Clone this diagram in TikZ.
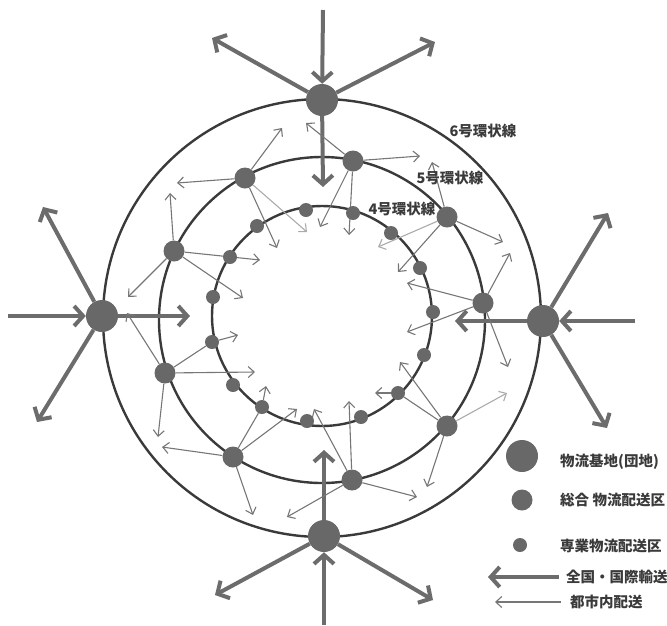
\documentclass[tikz,border=0pt]{standalone}
\usepackage{fontspec}
\newfontfamily\jp{Noto Sans CJK JP}
\usetikzlibrary{arrows.meta}
\pgfdeclarelayer{bg}
\pgfsetlayers{bg,main}
\definecolor{ringc}{HTML}{3A3A3A}
\definecolor{nodec}{HTML}{686868}
\definecolor{arrc}{HTML}{6C6C6C}
\definecolor{thinc}{HTML}{767676}
\definecolor{lightc}{HTML}{ABABAB}
\definecolor{txtc}{HTML}{3A3A3A}
\begin{document}
\begin{tikzpicture}[x=1pt,y=-1pt,
  ring/.style={draw=ringc,line width=2.4pt},
  bignode/.style={circle,fill=nodec,minimum size=32pt,inner sep=0pt},
  midnode/.style={circle,fill=nodec,minimum size=21pt,inner sep=0pt},
  smallnode/.style={circle,fill=nodec,minimum size=14pt,inner sep=0pt},
  thickarr/.style={draw=arrc,line width=4pt,-{Straight Barb[length=9pt,width=20pt]}},
  thinarr/.style={draw=thinc,line width=1.1pt,-{Straight Barb[length=6pt,width=11pt]}},
  lightarr/.style={draw=lightc,line width=1.1pt,-{Straight Barb[length=6pt,width=11pt]}},
  thinline/.style={draw=thinc,line width=1.1pt},
  lab/.style={font=\jp\bfseries\fontsize{14.5}{15}\selectfont,text=txtc,inner sep=0pt},
  leg/.style={font=\jp\bfseries\fontsize{14.5}{15}\selectfont,text=txtc,inner sep=0pt,anchor=west}
]
\useasboundingbox (0,0) rectangle (667,625);

% ring centres
\coordinate (rc6) at (322,318);
\coordinate (rc5) at (322,320);
\coordinate (rc4) at (322,316);

% big nodes
\node[bignode] (T) at (322,100) {};
\node[bignode] (L) at (102,316) {};
\node[bignode] (R) at (543,321) {};
\node[bignode] (B) at (324,536) {};

% mid nodes
\foreach \n/\x/\y in {N1/353/161,N2/245/178,N3/174/251,N4/165/373,N5/233/457,
  N6/352/480,N7/447/426,N8/483/303,N9/447/217}
  \node[midnode] (\n) at (\x,\y) {};

% small nodes
\foreach \n/\x/\y in {i1/306/210,i2/353/213,i3/391/233,i4/420/268,i5/433/312,
  i6/424/355,i7/398/393,i8/361/417,i9/307/421,i10/262/407,i11/233/385,
  i12/212/342,i13/213/297,i14/230/257,i15/257/226}
  \node[smallnode] (\n) at (\x,\y) {};

% free ends of thick arrows
\foreach \n/\x/\y in {Tin/323/10,Tul/212/38,Tur/435/42,Td/323/187,
  Lin/8/316,Lr/190/316,Lul/43/207,Lll/37/422,
  Rin/635/321,Rl/455/321,Rur/608/213,Rlr/607/428,
  Bin/324/625,Bu/324/450,Bll/215/595,Blr/433/600}
  \coordinate (\n) at (\x,\y);

% free ends of thin arrows
\foreach \n/\x/\y in {
  ta1/420/156,ta2/306/123,ta3/320/227,ta4/349/235,
  tb1/177/183,tb2/282/128,tb3/277/248,tb4/307/232,
  tc1/170/193,tc2/128/297,tc3/243/298,tc4/260/260,
  td1/127/313,td2/255/372,td3/158/437,td4/238/335,
  te1/162/447,te2/297/409,te3/253/515,te4/266/386,
  tf1/349/401,tf2/314/409,tf3/417/497,tf4/287/517,
  tg1/400/362,tg2/507/393,tg3/427/487,tg4/375/393,
  th1/407/283,th2/407/332,th3/510/253,th4/508/367,
  tk1/432/162,tk2/378/247,tk3/398/272,tk4/503/242}
  \coordinate (\n) at (\x,\y);

\begin{pgfonlayer}{bg}
  % rings
  \draw[ring] (rc6) circle[radius=219];
  \draw[ring] (rc5) circle[radius=163];
  \draw[ring] (rc4) circle[radius=110];

  % thick arrows
  \foreach \s/\t in {Tin/T,Lin/L,Rin/R,Bin/B,
    T/Tul,T/Tur,T/Td,L/Lr,L/Lul,L/Lll,R/Rl,R/Rur,R/Rlr,B/Bu,B/Bll,B/Blr}
    \draw[thickarr] (\s) -- (\t);

  % thin arrows
  \foreach \s/\t in {N1/ta1,N1/ta2,N1/ta3,N1/ta4,
    N2/tb1,N2/tb2,N2/tb3,
    N3/tc1,N3/tc2,N3/tc3,N3/tc4,
    N4/td1,N4/td2,N4/td3,i12/td4,
    N5/te1,N5/te2,N5/te3,i10/te4,
    N6/tf1,N6/tf2,N6/tf3,N6/tf4,
    N7/tg1,N7/tg3,i7/tg4,
    N8/th1,N8/th2,N8/th3,N8/th4,
    N9/tk1,N9/tk3,N9/tk4}
    \draw[thinarr] (\s) -- (\t);
  \foreach \s/\t in {N2/tb4,N7/tg2,N9/tk2}
    \draw[lightarr] (\s) -- (\t);
  \foreach \s/\t in {N4/i12,N5/i10,N7/i7}
    \draw[thinline] (\s) -- (\t);
\end{pgfonlayer}

% ring labels
\node[lab] (l6) at (483,131) {6号環状線};
\node[lab] (l5) at (450,178) {5号環状線};
\node[lab] (l4) at (402,209) {4号環状線};

% legend
\node[bignode] (g1n) at (522,456) {};
\node[midnode] (g2n) at (522,500) {};
\node[smallnode] (g3n) at (520,545) {};
\node[leg] (t1) at (560,462) {物流基地(団地)};
\node[leg] (t2) at (560,500) {総合 物流配送区};
\node[leg] (t3) at (560,546) {専業物流配送区};
\node[leg] (t4) at (566,577) {全国・国際輸送};
\node[leg] (t5) at (570,602) {都市内配送};
\coordinate (q1) at (488,577);
\coordinate (q2) at (495,602);
\draw[thickarr] (t4.west) ++(-7,0) -- (q1);
\draw[thinarr] (t5.west) ++(-9,0) -- (q2);
\end{tikzpicture}
\end{document}
